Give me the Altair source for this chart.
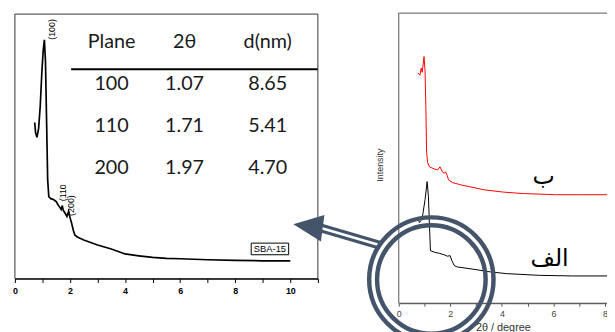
import altair as alt
import pandas as pd

# ---------------- data ----------------
# Left panel: SBA-15 low-angle XRD
sba_2theta = [0.72, 0.75, 0.80, 0.86, 0.92, 0.98, 1.03, 1.07, 1.11, 1.15, 1.19, 1.23, 1.30, 1.40,
              1.50, 1.56, 1.63, 1.68, 1.72, 1.76, 1.83, 1.89, 1.95, 2.00, 2.06, 2.12, 2.18, 2.27,
              2.5, 3.0, 3.5, 4.0, 4.5, 5.0, 5.5, 6.0, 6.5, 7.0, 8.0, 9.0, 10.0]
sba_intensity = [59.0, 55.2, 53.4, 56.7, 65.3, 78.4, 86.6, 90.3, 82.1, 59.7, 37.3, 31.0, 30.2, 29.9,
                 29.1, 28.0, 26.9, 26.1, 27.6, 25.7, 24.6, 23.5, 25.4, 23.1, 20.9, 18.3, 16.4, 15.7,
                 14.6, 12.7, 11.2, 9.3, 8.6, 8.0, 7.6, 7.5, 7.3, 7.1, 6.9, 6.7, 6.7]

# Right panel: curve "الف" (black)
a_2theta = [0.74, 0.80, 0.86, 0.93, 1.02, 1.10, 1.15, 1.20, 1.23, 1.38, 1.57, 1.76, 1.89, 1.99,
            2.06, 2.15, 2.27, 2.91, 3.55, 4.18, 5.47, 6.74, 8.50]
a_intensity = [29.6, 27.8, 28.5, 30.5, 35.7, 41.9, 36.8, 24.5, 18.1, 17.6, 17.2, 16.7, 16.2, 16.4,
               14.7, 13.0, 12.5, 11.7, 10.8, 10.2, 9.6, 9.4, 9.4]

# Right panel: curve "ب" (red)
b_2theta = [0.74, 0.82, 0.87, 0.91, 0.98, 1.02, 1.05, 1.08, 1.12, 1.19, 1.32, 1.50, 1.60, 1.69,
            1.77, 1.82, 1.88, 1.93, 2.08, 2.40, 2.73, 3.30, 4.06, 4.83, 6.09, 7.00, 8.50]
b_intensity = [79.4, 78.6, 81.0, 79.6, 85.0, 80.0, 68.0, 52.0, 48.5, 47.0, 46.5, 45.9, 47.0, 45.3,
               44.8, 45.3, 44.0, 42.5, 41.6, 40.8, 40.2, 39.1, 38.3, 37.8, 37.4, 37.4, 37.4]

table_header = ["Plane", "2θ", "d(nm)"]
table_plane = ["100", "110", "200"]
table_2theta = ["1.07", "1.71", "1.97"]
table_d = ["8.65", "5.41", "4.70"]

peak_labels = ["(100)", "(110)", "(200)"]
sample_label = "SBA-15"
series_labels = ["الف", "ب"]
left_ticks = list(range(0, 12))
right_ticks = list(range(0, 9))

# ---------------- layout constants ----------------
W, H = 607, 324
DARK = "#44546A"

xL = alt.Scale(domain=[0, 11], range=[7, 314], nice=False, zero=False)
yL = alt.Scale(domain=[0, 100], range=[272, 4], nice=False, zero=False)
xR = alt.Scale(domain=[0, 8.08], range=[396, 607], nice=False, zero=False)
yR = alt.Scale(domain=[0, 100], range=[297, 3], nice=False, zero=False)

axL = alt.Axis(orient="bottom", offset=272 - H, values=left_ticks,
               labelExpr="(datum.value % 2 == 0 && datum.value <= 10) ? datum.label : ''",
               tickSize=4, tickColor="black", tickWidth=1, domainColor="black", domainWidth=1.5,
               labelFont="Liberation Sans", labelFontSize=9, labelFontWeight="bold",
               labelColor="black", labelPadding=4, grid=False, title=None,
               labelFlush=False, labelOverlap=False)
axR = alt.Axis(orient="bottom", offset=297 - H, values=right_ticks,
               labelExpr="datum.value % 2 == 0 ? datum.label : ''",
               tickSize=3, tickColor="#555", domainColor="#555", domainWidth=1,
               labelFont="Liberation Sans", labelFontSize=9, labelColor="#444", labelPadding=3,
               title="2θ / degree", titleFont="Liberation Sans", titleFontSize=11,
               titleFontWeight="normal", titleColor="#333", titlePadding=4, grid=False,
               labelFlush=False, labelOverlap=False)


def XL(f):
    return alt.X(f, scale=xL, axis=axL)


def YL(f):
    return alt.Y(f, scale=yL, axis=None)


def XR(f):
    return alt.X(f, scale=xR, axis=axR)


def YR(f):
    return alt.Y(f, scale=yR, axis=None)


# ---------------- left panel ----------------
df_sba = pd.DataFrame({"x": sba_2theta, "y": sba_intensity})
curve_l = alt.Chart(df_sba).mark_line(color="black", strokeWidth=1.7).encode(
    x=XL("x:Q"), y=YL("y:Q"))

df_peaks = pd.DataFrame({"t": peak_labels, "x": [1.36, 1.74, 2.03], "y": [94.2, 33.0, 27.6]})
peaks = alt.Chart(df_peaks).mark_text(angle=270, fontSize=9, font="Liberation Sans",
                                      color="black", align="center", baseline="middle").encode(
    x=XL("x:Q"), y=YL("y:Q"), text="t:N")

df_tbg = pd.DataFrame({"x": [1.55], "x2": [10.95], "y": [35.5], "y2": [99.6]})
table_bg = alt.Chart(df_tbg).mark_rect(color="white").encode(
    x=XL("x:Q"), x2="x2", y=YL("y:Q"), y2="y2")

col_x = [3.51, 6.16, 9.18]
row_y = [89.6, 73.5, 57.5, 41.8]
cells = []
for j, h in enumerate(table_header):
    cells.append({"t": h, "x": col_x[j], "y": row_y[0]})
for i in range(3):
    for j, col in enumerate([table_plane, table_2theta, table_d]):
        cells.append({"t": col[i], "x": col_x[j], "y": row_y[i + 1]})
df_cells = pd.DataFrame(cells)
table_text = alt.Chart(df_cells).mark_text(font="Lato", fontSize=20, color="#1a1a1a",
                                           align="center", baseline="middle").encode(
    x=XL("x:Q"), y=YL("y:Q"), text="t:N")

df_trule = pd.DataFrame({"x": [2.04], "x2": [11.0], "y": [79.1]})
table_rule = alt.Chart(df_trule).mark_rule(color="black", strokeWidth=2).encode(
    x=XL("x:Q"), x2="x2", y=YL("y:Q"))

df_sbox = pd.DataFrame({"x": [8.58], "x2": [9.94], "y": [9.0], "y2": [13.4]})
sba_box = alt.Chart(df_sbox).mark_rect(fillOpacity=0, stroke="black", strokeWidth=1).encode(
    x=XL("x:Q"), x2="x2", y=YL("y:Q"), y2="y2")
df_stext = pd.DataFrame({"t": [sample_label], "x": [9.26], "y": [11.2]})
sba_text = alt.Chart(df_stext).mark_text(font="Liberation Sans", fontSize=9.5, color="black",
                                         align="center", baseline="middle").encode(
    x=XL("x:Q"), y=YL("y:Q"), text="t:N")

df_fl = pd.DataFrame({"x": [0], "x2": [11], "y": [0], "y2": [100]})
frame_l = alt.Chart(df_fl).mark_rect(fillOpacity=0, stroke="#333", strokeWidth=1).encode(
    x=XL("x:Q"), x2="x2", y=YL("y:Q"), y2="y2")

left = alt.layer(curve_l, peaks, table_bg, table_text, table_rule, sba_box, sba_text, frame_l)

# ---------------- right panel ----------------
df_a = pd.DataFrame({"x": a_2theta, "y": a_intensity})
df_b = pd.DataFrame({"x": b_2theta, "y": b_intensity})
curve_a = alt.Chart(df_a).mark_line(color="black", strokeWidth=1, clip=True).encode(
    x=XR("x:Q"), y=YR("y:Q"))
curve_b = alt.Chart(df_b).mark_line(color="#ff0000", strokeWidth=1, clip=True).encode(
    x=XR("x:Q"), y=YR("y:Q"))

df_fr = pd.DataFrame({"x": [0], "x2": [9], "y": [0], "y2": [100]})
frame_r = alt.Chart(df_fr).mark_rect(fillOpacity=0, stroke="#555", strokeWidth=1).encode(
    x=XR("x:Q"), x2="x2", y=YR("y:Q"), y2="y2")

df_ar = pd.DataFrame({"t": series_labels, "x": [5.85, 5.62], "y": [15.2, 43.6]})
arabic = alt.Chart(df_ar).mark_text(font="DejaVu Sans", fontSize=24, color="black",
                                    align="center", baseline="middle").encode(
    x=XR("x:Q"), y=YR("y:Q"), text="t:N")

df_int = pd.DataFrame({"t": ["Intensity"], "x": [-0.72], "y": [47.6]})
intensity = alt.Chart(df_int).mark_text(font="Liberation Sans", fontSize=9, color="#333",
                                        angle=270, align="center", baseline="middle").encode(
    x=XR("x:Q"), y=YR("y:Q"), text="t:N")

right = alt.layer(frame_r, curve_a, curve_b, arabic, intensity)

# ---------------- decoration: arrow and magnifier rings ----------------
one = pd.DataFrame({"a": [0]})
shaft_outer = alt.Chart(one).mark_rule(color=DARK, strokeWidth=9).encode(
    x=alt.value(318), y=alt.value(221), x2=alt.value(376), y2=alt.value(238))
shaft_inner = alt.Chart(one).mark_rule(color="white", strokeWidth=2.5).encode(
    x=alt.value(318), y=alt.value(221), x2=alt.value(376), y2=alt.value(238))
head = alt.Chart(one).mark_point(shape="M-1,0L1,-0.9L1,0.9Z", filled=True, size=900, angle=7.5,
                                 color=DARK, opacity=1).encode(
    x=alt.value(304), y=alt.value(219))
ring_outer = alt.Chart(one).mark_point(shape="circle", filled=False, size=126 * 126,
                                       strokeWidth=4.5, color=DARK, opacity=1).encode(
    x=alt.value(429), y=alt.value(273))
ring_inner = alt.Chart(one).mark_point(shape="circle", filled=False, size=110 * 110,
                                       strokeWidth=4.5, color=DARK, opacity=1).encode(
    x=alt.value(429), y=alt.value(273))

chart = alt.layer(
    left, right, shaft_outer, shaft_inner, head, ring_outer, ring_inner
).resolve_scale(
    x="independent", y="independent"
).resolve_axis(
    x="independent", y="independent"
).properties(
    width=W, height=H, padding=0, background="white",
    autosize=alt.AutoSizeParams(type="none")
).configure_view(strokeWidth=0)

chart.save("out.html", embed_options={"renderer": "svg", "actions": False})
